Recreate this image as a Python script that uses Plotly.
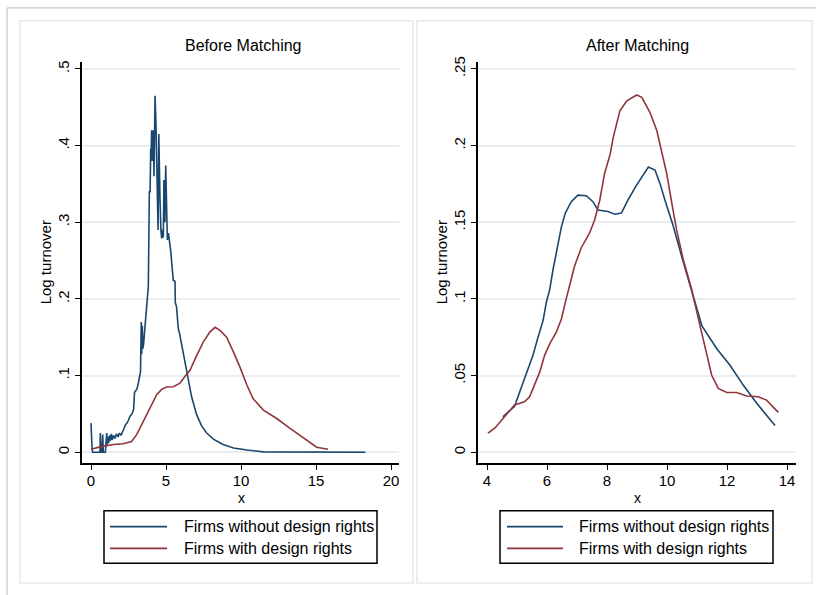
import plotly.graph_objects as go

# ---------------- data ----------------
before_without_x = [0.0, 0.02, 0.07, 0.11, 0.5, 0.6, 0.62, 0.66, 0.69, 0.76, 0.78, 0.82, 0.96, 1.0, 1.05, 1.08,
                    1.12, 1.18, 1.24, 1.3, 1.36, 1.42, 1.5, 1.6, 1.7, 1.8, 1.9, 2.0, 2.1, 2.2, 2.3, 2.4, 2.5,
                    2.6, 2.73, 2.84, 2.9, 2.96, 3.07, 3.15, 3.22, 3.3, 3.35, 3.38, 3.42, 3.45, 3.5, 3.6, 3.7,
                    3.78, 3.82, 3.89, 3.94, 3.98, 4.0, 4.04, 4.09, 4.12, 4.15, 4.2, 4.24, 4.27, 4.33, 4.38,
                    4.42, 4.47, 4.52, 4.56, 4.6, 4.66, 4.71, 4.77, 4.82, 4.86, 4.93, 4.98, 5.04, 5.09, 5.16,
                    5.22, 5.27, 5.33, 5.38, 5.45, 5.49, 5.6, 5.62, 5.7, 5.82, 5.9, 6.04, 6.27, 6.49, 6.71,
                    7.04, 7.38, 7.71, 8.16, 8.8, 9.5, 10.4, 11.5, 18.3]
before_without_y = [0.038, 0.012, 0.006, 0.0, 0.0, 0.0, 0.025, 0.003, 0.0, 0.0, 0.023, 0.0, 0.0, 0.012, 0.025,
                    0.01, 0.02, 0.012, 0.022, 0.015, 0.024, 0.016, 0.022, 0.018, 0.024, 0.02, 0.025, 0.022,
                    0.028, 0.031, 0.036, 0.038, 0.042, 0.047, 0.05, 0.056, 0.078, 0.08, 0.083, 0.09, 0.10,
                    0.105, 0.17, 0.128, 0.165, 0.135, 0.14, 0.165, 0.198, 0.216, 0.216, 0.34, 0.34, 0.396,
                    0.38, 0.42, 0.38, 0.40, 0.42, 0.36, 0.42, 0.465, 0.43, 0.355, 0.33, 0.29, 0.415, 0.33,
                    0.33, 0.29, 0.279, 0.29, 0.28, 0.355, 0.30, 0.374, 0.31, 0.277, 0.286, 0.277, 0.275,
                    0.26, 0.247, 0.235, 0.224, 0.223, 0.195, 0.19, 0.161, 0.155, 0.14, 0.12, 0.092, 0.072,
                    0.049, 0.034, 0.025, 0.017, 0.010, 0.0056, 0.003, 0.0005, 0.0]

before_with_x = [0.0, 0.6, 1.49, 2.15, 2.71, 3.04, 3.38, 3.71, 4.04, 4.38, 4.71, 5.04, 5.49, 5.93, 6.27, 6.6,
                 7.04, 7.49, 7.93, 8.27, 8.6, 9.04, 9.49, 9.93, 10.38, 10.8, 11.49, 12.38, 13.27, 14.16,
                 15.04, 15.8]
before_with_y = [0.004, 0.007, 0.010, 0.011, 0.014, 0.023, 0.036, 0.049, 0.062, 0.075, 0.082, 0.085, 0.0854,
                 0.090, 0.099, 0.107, 0.126, 0.144, 0.157, 0.163, 0.159, 0.150, 0.131, 0.111, 0.088, 0.070,
                 0.055, 0.044, 0.031, 0.019, 0.0065, 0.004]

after_without_x = [4.53, 4.75, 4.92, 5.14, 5.37, 5.53, 5.7, 5.87, 5.98, 6.09, 6.2, 6.37, 6.48, 6.61, 6.81,
                   7.03, 7.31, 7.53, 7.7, 8.03, 8.26, 8.48, 8.7, 8.98, 9.2, 9.38, 9.6, 9.77, 9.93, 10.2,
                   10.5, 10.88, 11.16, 11.66, 12.1, 12.54, 12.99, 13.6]
after_without_y = [0.023, 0.027, 0.030, 0.042, 0.0545, 0.063, 0.075, 0.086, 0.098, 0.106, 0.119, 0.1365,
                   0.147, 0.156, 0.1634, 0.1677, 0.1673, 0.1634, 0.158, 0.157, 0.1552, 0.156, 0.1645, 0.174,
                   0.181, 0.186, 0.184, 0.175, 0.1645, 0.148, 0.127, 0.102, 0.0826, 0.0675, 0.0567, 0.0438,
                   0.0319, 0.0175]

after_with_x = [4.03, 4.26, 4.59, 4.92, 5.1, 5.26, 5.42, 5.59, 5.76, 5.92, 6.09, 6.31, 6.48, 6.61, 6.76,
                6.92, 7.14, 7.42, 7.59, 7.76, 7.92, 8.11, 8.21, 8.43, 8.66, 8.99, 9.16, 9.43, 9.66, 9.82,
                9.99, 10.16, 10.32, 10.54, 10.82, 11.1, 11.32, 11.49, 11.71, 11.99, 12.32, 12.66, 13.04,
                13.32, 13.71]
after_with_y = [0.0125, 0.0157, 0.0233, 0.0308, 0.032, 0.033, 0.0362, 0.0438, 0.0524, 0.0632, 0.0707,
                0.0783, 0.0869, 0.0977, 0.1085, 0.1214, 0.1332, 0.143, 0.1516, 0.1645, 0.1818, 0.1947,
                0.2055, 0.2227, 0.2292, 0.233, 0.2314, 0.2217, 0.2098, 0.1968, 0.1818, 0.1624, 0.145,
                0.1257, 0.1063, 0.0826, 0.0653, 0.0502, 0.0416, 0.039, 0.039, 0.0367, 0.0362, 0.034, 0.026]

panel_titles = ["Before Matching", "After Matching"]
series_names = ["Firms without design rights", "Firms with design rights"]
left_xticks = [0, 5, 10, 15, 20]
left_yticks = [0, 0.1, 0.2, 0.3, 0.4, 0.5]
left_yticklabels = ["0", ".1", ".2", ".3", ".4", ".5"]
right_xticks = [4, 6, 8, 10, 12, 14]
right_yticks = [0, 0.05, 0.1, 0.15, 0.2, 0.25]
right_yticklabels = ["0", ".05", ".1", ".15", ".2", ".25"]

# ---------------- style ----------------
W, H = 816, 595
BLUE = "#1a476f"
RED = "#90353b"
GRID = "#e8eff2"
PANEL = "#e2eaee"
FONT = "Liberation Sans, Arial, sans-serif"

def px(x):
    return x / W

def py(y):
    return 1 - y / H

fig = go.Figure()
fig.add_trace(go.Scatter(x=before_without_x, y=before_without_y, mode="lines", name=series_names[0],
                         line=dict(color=BLUE, width=1.6), xaxis="x", yaxis="y", showlegend=False))
fig.add_trace(go.Scatter(x=before_with_x, y=before_with_y, mode="lines", name=series_names[1],
                         line=dict(color=RED, width=1.6), xaxis="x", yaxis="y", showlegend=False))
fig.add_trace(go.Scatter(x=after_without_x, y=after_without_y, mode="lines", name=series_names[0],
                         line=dict(color=BLUE, width=1.6), xaxis="x2", yaxis="y2", showlegend=False))
fig.add_trace(go.Scatter(x=after_with_x, y=after_with_y, mode="lines", name=series_names[1],
                         line=dict(color=RED, width=1.6), xaxis="x2", yaxis="y2", showlegend=False))

ydom = [py(462), py(57)]
common_x = dict(showline=True, linecolor="black", linewidth=1.6, ticks="outside", ticklen=5,
                tickwidth=1.4, tickcolor="black", showgrid=False, zeroline=False, ticklabelstandoff=-2,
                tickfont=dict(family=FONT, size=15, color="black"))
common_y = dict(showline=True, linecolor="black", linewidth=1.6, ticks="outside", ticklen=5,
                tickwidth=1.4, tickcolor="black", showgrid=True, gridcolor=GRID, gridwidth=1.5,
                zeroline=False, tickangle=-90, tickfont=dict(family=FONT, size=15, color="black"))

fig.update_layout(
    width=W, height=H, margin=dict(l=0, r=0, t=0, b=0),
    paper_bgcolor="white", plot_bgcolor="white", showlegend=False,
    font=dict(family=FONT, color="black"),
    xaxis=dict(domain=[px(82), px(399)], range=[-0.6, 20.53], tickvals=left_xticks,
               anchor="y", **common_x),
    yaxis=dict(domain=ydom, range=[-0.0142, 0.5097], tickvals=left_yticks,
               ticktext=left_yticklabels, anchor="x", **common_y),
    xaxis2=dict(domain=[px(478), px(796)], range=[3.7, 14.3], tickvals=right_xticks,
                anchor="y2", **common_x),
    yaxis2=dict(domain=ydom, range=[-0.0071, 0.2548], tickvals=right_yticks,
                ticktext=right_yticklabels, anchor="x2", **common_y),
)

shapes = []
# outer frame lines
shapes.append(dict(type="line", xref="paper", yref="paper", x0=px(7), x1=1, y0=py(3), y1=py(3),
                   line=dict(color="#c4c4c4", width=1.2), layer="below"))
shapes.append(dict(type="line", xref="paper", yref="paper", x0=px(7), x1=px(7), y0=py(3), y1=0,
                   line=dict(color="#c4c4c4", width=1.2), layer="below"))
# panel borders
for (l, r) in [(20, 413), (417, 812)]:
    shapes.append(dict(type="rect", xref="paper", yref="paper", x0=px(l), x1=px(r), y0=py(583), y1=py(16),
                       line=dict(color=PANEL, width=1.5), fillcolor="white", layer="below"))

annotations = []
# titles
for cx, t in [(243.5, panel_titles[0]), (637.5, panel_titles[1])]:
    annotations.append(dict(text=t, xref="paper", yref="paper", x=px(cx), y=py(41), showarrow=False,
                            xanchor="center", yanchor="middle", font=dict(family=FONT, size=16, color="black")))
# axis titles
for cx in [45, 441]:
    annotations.append(dict(text="Log turnover", xref="paper", yref="paper", x=px(cx), y=py(259.5),
                            showarrow=False, textangle=-90, xanchor="center", yanchor="middle",
                            font=dict(family=FONT, size=15, color="black")))
for cx in [241, 637]:
    annotations.append(dict(text="x", xref="paper", yref="paper", x=px(cx), y=py(497.5), showarrow=False,
                            xanchor="center", yanchor="middle", font=dict(family=FONT, size=14, color="black")))

# legends
for (bl, br, ll, lr, tx) in [(104, 377, 110, 167, 182), (500, 773, 507, 563, 577)]:
    shapes.append(dict(type="rect", xref="paper", yref="paper", x0=px(bl), x1=px(br), y0=py(563), y1=py(510),
                       line=dict(color="black", width=1.5), fillcolor="rgba(0,0,0,0)"))
    for yy, col, name in [(526, BLUE, series_names[0]), (548, RED, series_names[1])]:
        shapes.append(dict(type="line", xref="paper", yref="paper", x0=px(ll), x1=px(lr), y0=py(yy), y1=py(yy),
                           line=dict(color=col, width=1.6)))
        annotations.append(dict(text=name, xref="paper", yref="paper", x=px(tx), y=py(yy), showarrow=False,
                                xanchor="left", yanchor="middle",
                                font=dict(family=FONT, size=16, color="black")))

fig.update_layout(shapes=shapes, annotations=annotations)
fig.write_html("out.html")
